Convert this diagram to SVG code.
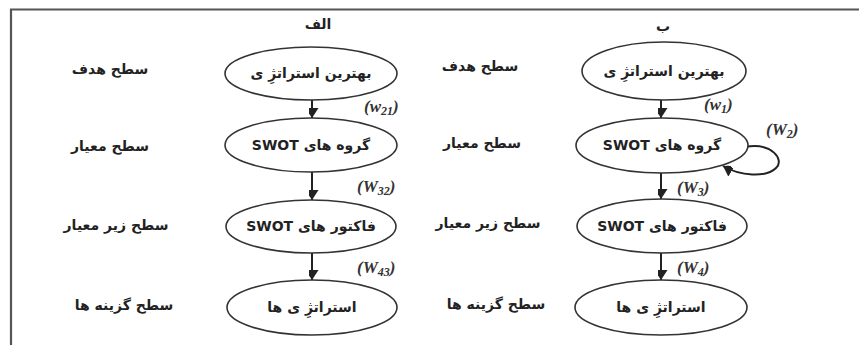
<svg xmlns="http://www.w3.org/2000/svg" width="859" height="345" viewBox="0 0 859 345">
<defs>
<style>
.fa{font-family:"DejaVu Sans",sans-serif;font-weight:bold;font-size:14px;fill:#222}
.node ellipse{fill:#fff;stroke:#333;stroke-width:1.6}
.edge{stroke:#222;stroke-width:2;fill:none}
.w{font-family:"Liberation Serif",serif;font-style:italic;font-weight:bold;font-size:17px;fill:#333}
.sub{font-size:12px}
</style>
<marker id="ah" markerWidth="13" markerHeight="10" refX="10" refY="6.5" orient="auto" markerUnits="userSpaceOnUse">
<path d="M0,0 L10,6.5 L0,13 Z" fill="#222"/>
</marker>
</defs>
<rect x="0" y="0" width="859" height="345" fill="#fff"/>
<path d="M11,345 L11,9.5 L859,9.5" fill="none" stroke="#555" stroke-width="2.2"/>

<text class="fa" x="318" y="29" text-anchor="middle" direction="rtl">الف</text>
<text class="fa" x="663" y="31" text-anchor="middle" direction="rtl">ب</text>

<g id="levels-left">
<text class="fa" x="110" y="74" text-anchor="middle" direction="rtl">سطح هدف</text>
<text class="fa" x="110" y="151" text-anchor="middle" direction="rtl">سطح معیار</text>
<text class="fa" x="116" y="230" text-anchor="middle" direction="rtl">سطح زیر معیار</text>
<text class="fa" x="124" y="310" text-anchor="middle" direction="rtl">سطح گزینه ها</text>
</g>
<g id="levels-right">
<text class="fa" x="480" y="71" text-anchor="middle" direction="rtl">سطح هدف</text>
<text class="fa" x="482" y="148" text-anchor="middle" direction="rtl">سطح معیار</text>
<text class="fa" x="488" y="228" text-anchor="middle" direction="rtl">سطح زیر معیار</text>
<text class="fa" x="496" y="309" text-anchor="middle" direction="rtl">سطح گزینه ها</text>
</g>

<g id="connectors">
<line class="edge" x1="312" y1="100" x2="312" y2="118" marker-end="url(#ah)"/>
<line class="edge" x1="312" y1="172" x2="312" y2="200" marker-end="url(#ah)"/>
<line class="edge" x1="312" y1="253" x2="312" y2="280" marker-end="url(#ah)"/>
<line class="edge" x1="661" y1="100" x2="661" y2="118" marker-end="url(#ah)"/>
<line class="edge" x1="661" y1="173" x2="661" y2="199" marker-end="url(#ah)"/>
<line class="edge" x1="661" y1="253" x2="661" y2="280" marker-end="url(#ah)"/>
<path class="edge" d="M745,147 C772,142 785,160 776,168 C766,178 740,176 723,166" marker-end="url(#ah)"/>
<text class="w" x="364" y="112">(w<tspan class="sub" dy="3">21</tspan><tspan dy="-3">)</tspan></text>
<text class="w" x="357" y="192">(W<tspan class="sub" dy="3">32</tspan><tspan dy="-3">)</tspan></text>
<text class="w" x="357" y="273">(W<tspan class="sub" dy="3">43</tspan><tspan dy="-3">)</tspan></text>
<text class="w" x="704" y="110">(w<tspan class="sub" dy="3">1</tspan><tspan dy="-3">)</tspan></text>
<text class="w" x="766" y="135">(W<tspan class="sub" dy="3">2</tspan><tspan dy="-3">)</tspan></text>
<text class="w" x="677" y="193">(W<tspan class="sub" dy="3">3</tspan><tspan dy="-3">)</tspan></text>
<text class="w" x="677" y="273">(W<tspan class="sub" dy="3">4</tspan><tspan dy="-3">)</tspan></text>
</g>

<g id="a1" class="node"><ellipse cx="311" cy="73.5" rx="86" ry="26.5"/><text class="fa" x="311" y="78" text-anchor="middle" direction="rtl">بهترین استراتژِ ی</text></g>
<g id="a2" class="node"><ellipse cx="311" cy="145" rx="86" ry="27"/><text class="fa" x="311" y="150" text-anchor="middle" direction="rtl">گروه های SWOT</text></g>
<g id="a3" class="node"><ellipse cx="311" cy="226.5" rx="85" ry="26.5"/><text class="fa" x="311" y="231" text-anchor="middle" direction="rtl">فاکتور های SWOT</text></g>
<g id="a4" class="node"><ellipse cx="312" cy="307.5" rx="85" ry="27.5"/><text class="fa" x="312" y="312" text-anchor="middle" direction="rtl">استراتژِ ی ها</text></g>

<g id="b1" class="node"><ellipse cx="664" cy="71" rx="82" ry="29"/><text class="fa" x="664" y="76" text-anchor="middle" direction="rtl">بهترین استراتژِ ی</text></g>
<g id="b2" class="node"><ellipse cx="662" cy="145.5" rx="86" ry="27.5"/><text class="fa" x="662" y="150" text-anchor="middle" direction="rtl">گروه های SWOT</text></g>
<g id="b3" class="node"><ellipse cx="662" cy="226" rx="85" ry="27"/><text class="fa" x="662" y="231" text-anchor="middle" direction="rtl">فاکتور های SWOT</text></g>
<g id="b4" class="node"><ellipse cx="661" cy="307.5" rx="86" ry="27.5"/><text class="fa" x="661" y="312" text-anchor="middle" direction="rtl">استراتژِ ی ها</text></g>
</svg>
